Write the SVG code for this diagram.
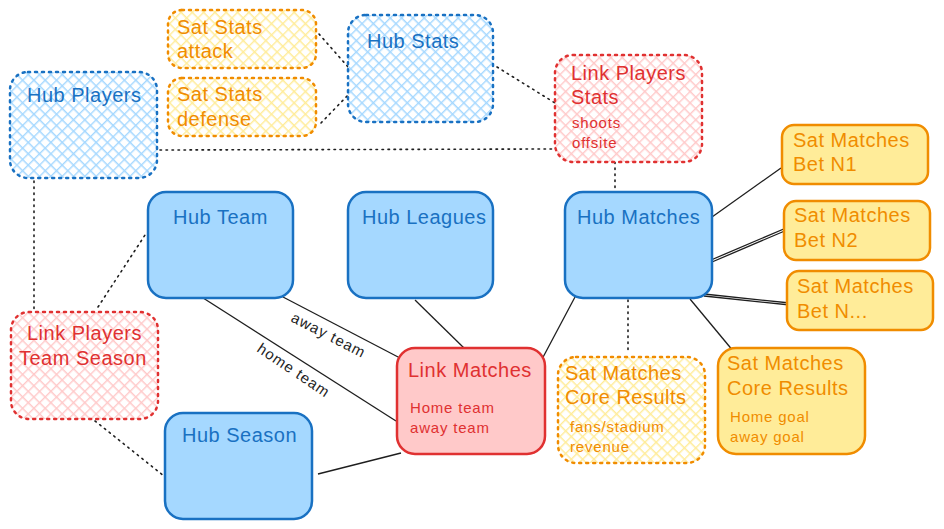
<svg xmlns="http://www.w3.org/2000/svg" width="944" height="529" viewBox="0 0 944 529">
<defs>
<pattern id="hb" patternUnits="userSpaceOnUse" width="8" height="8" patternTransform="rotate(45)">
<rect width="8" height="8" fill="#ffffff"/>
<path d="M0 0H8M0 0V8" stroke="#a5d8ff" stroke-width="2.8"/>
</pattern>
<pattern id="hy" patternUnits="userSpaceOnUse" width="8" height="8" patternTransform="rotate(45)">
<rect width="8" height="8" fill="#ffffff"/>
<path d="M0 0H8M0 0V8" stroke="#ffec99" stroke-width="2.8"/>
</pattern>
<pattern id="hr" patternUnits="userSpaceOnUse" width="8" height="8" patternTransform="rotate(45)">
<rect width="8" height="8" fill="#ffffff"/>
<path d="M0 0H8M0 0V8" stroke="#ffc9c9" stroke-width="2.8"/>
</pattern>
</defs>
<style>
text{font-family:"Liberation Sans",Arial,sans-serif;}
.t{font-size:20px;letter-spacing:0.5px;}
.s{font-size:15px;letter-spacing:0.8px;}
.bl{fill:#1971c2;}
.or{fill:#f08c00;}
.rd{fill:#e03131;}
.hub{fill:#a5d8ff;stroke:#1971c2;stroke-width:2.5;}
.hubd{fill:url(#hb);stroke:#1971c2;stroke-width:2.5;stroke-dasharray:2 5;stroke-linecap:round;}
.sat{fill:#ffec99;stroke:#f08c00;stroke-width:2.5;}
.satd{fill:url(#hy);stroke:#f08c00;stroke-width:2.5;stroke-dasharray:2 5;stroke-linecap:round;}
.lnk{fill:#ffc9c9;stroke:#e03131;stroke-width:2.5;}
.lnkd{fill:url(#hr);stroke:#e03131;stroke-width:2.5;stroke-dasharray:2 5;stroke-linecap:round;}
.c{stroke:#1e1e1e;stroke-width:1.3;fill:none;}
.d{stroke:#1e1e1e;stroke-width:1.6;fill:none;stroke-dasharray:1.5 4.5;stroke-linecap:round;}
.el{font-size:15px;letter-spacing:1px;fill:#1e1e1e;}
</style>
<g id="connectors">
<line class="d" x1="160" y1="150" x2="555" y2="149"/>
<line class="d" x1="319" y1="34" x2="349" y2="68"/>
<line class="d" x1="321" y1="123" x2="350" y2="93"/>
<line class="d" x1="497" y1="67" x2="555" y2="103"/>
<line class="d" x1="615" y1="162" x2="615" y2="194"/>
<line class="d" x1="34" y1="181" x2="34" y2="311"/>
<line class="d" x1="98" y1="307" x2="147" y2="232"/>
<line class="d" x1="95" y1="421" x2="164" y2="476"/>
<line class="d" x1="628" y1="300" x2="628" y2="354"/>
<line class="c" x1="283" y1="297" x2="400" y2="358"/>
<line class="c" x1="200" y1="296" x2="396" y2="421"/>
<line class="c" x1="415" y1="300" x2="465" y2="349"/>
<line class="c" x1="318" y1="474" x2="401" y2="453"/>
<line class="c" x1="575" y1="297" x2="541" y2="361"/>
<line class="c" x1="690" y1="299" x2="734" y2="352"/>
<line class="c" x1="712" y1="217" x2="781" y2="168"/>
<line class="c" x1="711" y1="260" x2="786" y2="228"/>
<line class="c" x1="712" y1="262" x2="787" y2="230"/>
<line class="c" x1="704" y1="294" x2="790" y2="303"/>
<line class="c" x1="704" y1="296" x2="790" y2="305"/>
<text class="el" transform="translate(290,321) rotate(27)">away team</text>
<text class="el" transform="translate(256,351) rotate(34)">home team</text>
</g>
<g id="sat-stats-attack">
<rect class="satd" x="168" y="10" width="148" height="58" rx="14"/>
<text class="t or" x="177" y="34">Sat Stats</text>
<text class="t or" x="177" y="58">attack</text>
</g>
<g id="sat-stats-defense">
<rect class="satd" x="168" y="78" width="148" height="58" rx="14"/>
<text class="t or" x="177" y="101">Sat Stats</text>
<text class="t or" x="177" y="126">defense</text>
</g>
<g id="hub-stats">
<rect class="hubd" x="348" y="15" width="145" height="107" rx="18"/>
<text class="t bl" x="367" y="48">Hub Stats</text>
</g>
<g id="hub-players">
<rect class="hubd" x="10" y="72" width="147" height="106" rx="18"/>
<text class="t bl" x="27" y="102">Hub Players</text>
</g>
<g id="link-players-stats">
<rect class="lnkd" x="555" y="55" width="147" height="107" rx="18"/>
<text class="t rd" x="571" y="80">Link Players</text>
<text class="t rd" x="571" y="104">Stats</text>
<text class="s rd" x="572" y="128">shoots</text>
<text class="s rd" x="572" y="148">offsite</text>
</g>
<g id="hub-team">
<rect class="hub" x="148" y="192" width="145" height="106" rx="18"/>
<text class="t bl" x="173" y="224">Hub Team</text>
</g>
<g id="hub-leagues">
<rect class="hub" x="348" y="192" width="145" height="106" rx="18"/>
<text class="t bl" x="362" y="224">Hub Leagues</text>
</g>
<g id="hub-matches">
<rect class="hub" x="565" y="192" width="147" height="106" rx="18"/>
<text class="t bl" x="577" y="224">Hub Matches</text>
</g>
<g id="sat-matches-bet-n1">
<rect class="sat" x="782" y="125" width="146" height="59" rx="12"/>
<text class="t or" x="793" y="147">Sat Matches</text>
<text class="t or" x="793" y="171">Bet N1</text>
</g>
<g id="sat-matches-bet-n2">
<rect class="sat" x="784" y="201" width="146" height="59" rx="12"/>
<text class="t or" x="794" y="222">Sat Matches</text>
<text class="t or" x="794" y="247">Bet N2</text>
</g>
<g id="sat-matches-bet-nx">
<rect class="sat" x="787" y="271" width="146" height="59" rx="12"/>
<text class="t or" x="797" y="293">Sat Matches</text>
<text class="t or" x="797" y="318">Bet N...</text>
</g>
<g id="link-players-team-season">
<rect class="lnkd" x="11" y="312" width="147" height="107" rx="18"/>
<text class="t rd" x="27" y="340">Link Players</text>
<text class="t rd" x="19" y="365">Team Season</text>
</g>
<g id="hub-season">
<rect class="hub" x="165" y="413" width="147" height="106" rx="18"/>
<text class="t bl" x="182" y="442">Hub Season</text>
</g>
<g id="link-matches">
<rect class="lnk" x="397" y="348" width="148" height="106" rx="18"/>
<text class="t rd" x="408" y="377">Link Matches</text>
<text class="s rd" x="410" y="413">Home team</text>
<text class="s rd" x="410" y="433">away team</text>
</g>
<g id="sat-matches-core-results-dashed">
<rect class="satd" x="558" y="357" width="147" height="106" rx="18"/>
<text class="t or" x="565" y="380">Sat Matches</text>
<text class="t or" x="565" y="404">Core Results</text>
<text class="s or" x="570" y="432">fans/stadium</text>
<text class="s or" x="570" y="452">revenue</text>
</g>
<g id="sat-matches-core-results">
<rect class="sat" x="718" y="348" width="147" height="106" rx="18"/>
<text class="t or" x="727" y="370">Sat Matches</text>
<text class="t or" x="727" y="395">Core Results</text>
<text class="s or" x="730" y="422">Home goal</text>
<text class="s or" x="730" y="442">away goal</text>
</g>
</svg>
